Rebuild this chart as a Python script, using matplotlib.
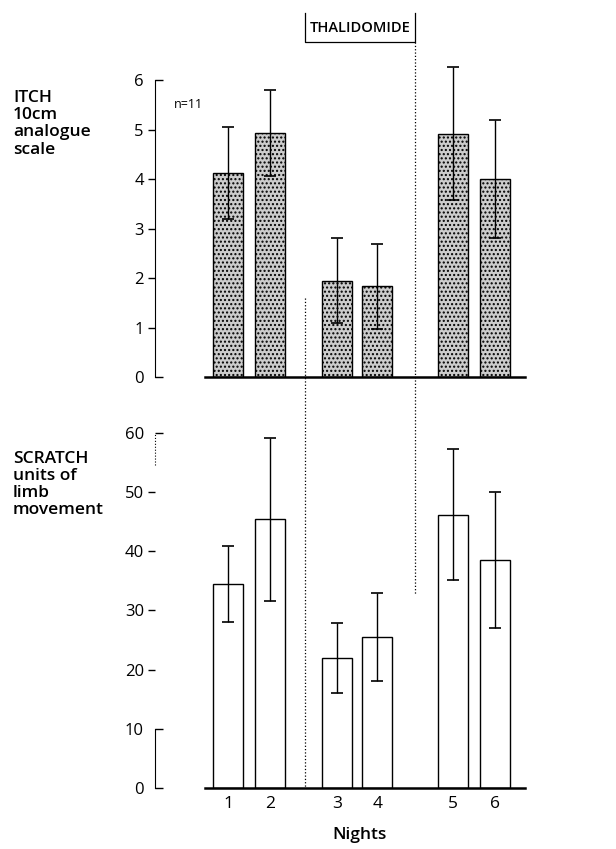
import matplotlib.pyplot as plt
import matplotlib.transforms as mtransforms
from matplotlib.lines import Line2D

plt.rcParams['font.family'] = ['Open Sans', 'DejaVu Sans']

nights = ['1', '2', '3', '4', '5', '6']
pos = [0, 1, 2.6, 3.55, 5.35, 6.35]   # gaps between the study periods

itch = [4.12, 4.93, 1.95, 1.83, 4.92, 4.0]
itch_err = [0.93, 0.87, 0.86, 0.85, 1.35, 1.2]

scratch = [34.5, 45.4, 22.0, 25.5, 46.2, 38.5]
scratch_err = [6.4, 13.8, 5.9, 7.5, 11.0, 11.5]

fig = plt.figure(figsize=(6.16, 8.49), dpi=100)
ax1 = fig.add_axes([155/616, 0.5559, 370/616, 0.3731])
ax2 = fig.add_axes([155/616, 0.0718, 370/616, 0.4323])

xlim = (-1.738, 7.07)
w = 0.71

# top panel: itch
ax1.bar(pos, itch, width=w, color='#cccccc', edgecolor='black', hatch='....', linewidth=1.0)
ax1.errorbar(pos, itch, yerr=itch_err, fmt='none', ecolor='black', elinewidth=1.0,
             capsize=4.5, capthick=1.2, clip_on=False)
ax1.set_xlim(xlim)
ax1.set_ylim(0, 6.4)
ax1.set_yticks([1, 2, 3, 4, 5])
ax1.set_yticks([0, 6], minor=True)
ax1.set_yticklabels(['1', '2', '3', '4', '5'])
ax1.set_yticklabels(['0', '6'], minor=True)
ax1.set_xticks([])
ax1.spines['left'].set_bounds(0, 6)
ax1.spines['bottom'].set_bounds(-0.55, 7.07)
ax1.spines['bottom'].set_linewidth(1.8)
ax1.text(-1.3, 5.5, 'n=11', fontsize=9, va='center')
ax1.text(-5.12, 5.8, 'ITCH\n10cm\nanalogue\nscale', fontsize=12.5, fontweight='semibold',
         va='top', linespacing=1.1)

# bottom panel: scratch
ax2.bar(pos, scratch, width=w, color='white', edgecolor='black', linewidth=1.0)
ax2.errorbar(pos, scratch, yerr=scratch_err, fmt='none', ecolor='black', elinewidth=1.0,
             capsize=4.5, capthick=1.2, clip_on=False)
ax2.set_xlim(xlim)
ax2.set_ylim(0, 62)
ax2.set_yticks([20, 30, 40, 50])
ax2.set_yticks([0, 10, 60], minor=True)
ax2.set_yticklabels(['20', '30', '40', '50'])
ax2.set_yticklabels(['0', '10', '60'], minor=True)
ax2.set_xticks(pos)
ax2.set_xticklabels(nights)
ax2.tick_params(axis='x', length=0, labelsize=12.5, pad=6)
ax2.spines['left'].set_bounds(0, 10)
ax2.plot([-1.738, -1.738], [54.5, 60], ls=':', lw=0.8, color='black', clip_on=False)
ax2.spines['bottom'].set_bounds(-0.55, 7.07)
ax2.spines['bottom'].set_linewidth(1.8)
ax2.text(-5.12, 57.0, 'SCRATCH\nunits of\nlimb\nmovement', fontsize=12.5,
         fontweight='semibold', va='top', linespacing=1.1)
ax2.set_xlabel('Nights', fontsize=12.5, fontweight='semibold')
ax2.xaxis.set_label_coords(3.14, -0.105,
                           transform=mtransforms.blended_transform_factory(ax2.transData, ax2.transAxes))

for ax in (ax1, ax2):
    for s in ('top', 'right'):
        ax.spines[s].set_visible(False)
    ax.tick_params(axis='y', which='major', direction='out', length=5, width=1, labelsize=12, pad=3)
    ax.tick_params(axis='y', which='minor', direction='in', length=6, width=1, labelsize=12, pad=8)

# dotted separators and the thalidomide bracket
tr = mtransforms.blended_transform_factory(ax1.transData, fig.transFigure)
fig.add_artist(Line2D([1.833, 1.833], [0.649, 0.0718], transform=tr, ls=':', lw=0.9, color='black'))
fig.add_artist(Line2D([4.452, 4.452], [0.95, 0.2992], transform=tr, ls=':', lw=0.9, color='black'))
fig.add_artist(Line2D([1.833, 1.833, 4.452, 4.452], [0.9847, 0.9505, 0.9505, 0.9847],
                      transform=tr, lw=0.9, color='black'))
fig.text(3.14, 0.967, 'THALIDOMIDE', transform=tr, ha='center', va='center',
         fontsize=10.5, fontweight='semibold')

fig.savefig('out.png', dpi=100)
